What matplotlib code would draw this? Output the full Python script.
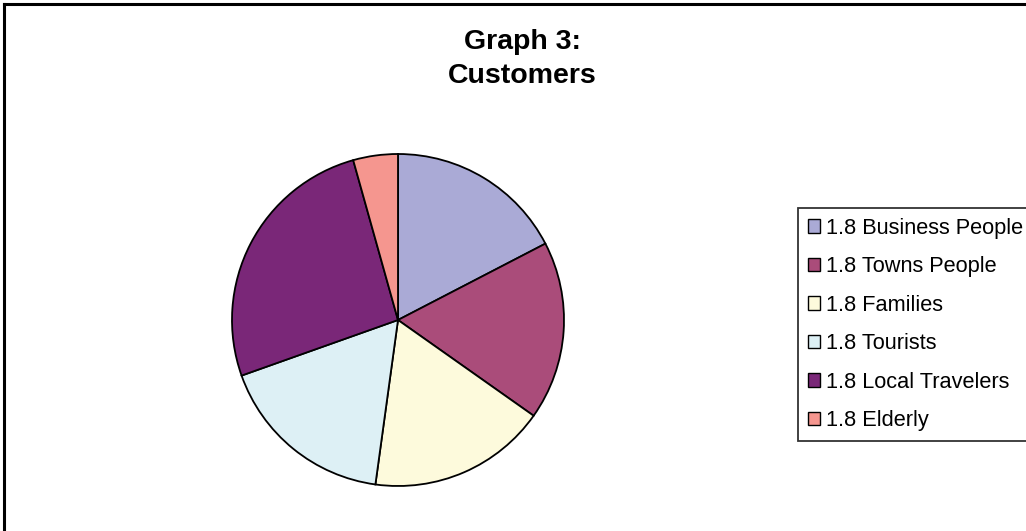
import matplotlib
matplotlib.use("Agg")
import matplotlib.pyplot as plt
from matplotlib.patches import Patch

labels = ["1.8 Business People", "1.8 Towns People", "1.8 Families",
          "1.8 Tourists", "1.8 Local Travelers", "1.8 Elderly"]
values = [4, 4, 4, 4, 6, 1]
colors = ["#AAAAD6", "#AA4C7A", "#FDFADC", "#DDF0F5", "#7A2778", "#F5968F"]
title = "Graph 3:\nCustomers"

W, H = 1026, 531
fig = plt.figure(figsize=(W / 100, H / 100), dpi=100)
fig.patch.set_facecolor("white")

# outer border (top and left visible)
fig.add_artist(plt.Line2D([4 / W, 4 / W], [0, 1 - 4 / H], color="black", lw=2.2, transform=fig.transFigure))
fig.add_artist(plt.Line2D([4 / W, 1], [1 - 4 / H, 1 - 4 / H], color="black", lw=2.2, transform=fig.transFigure))

ax = fig.add_axes([232 / W, 45 / H, 332 / W, 332 / H])
ax.pie(values, colors=colors, startangle=90, counterclock=False,
       wedgeprops=dict(edgecolor="black", linewidth=1.3), radius=1)
ax.set_xlim(-1, 1)
ax.set_ylim(-1, 1)
ax.set_aspect("equal")
ax.axis("off")

fig.text(522 / W, 1 - 59 / H, title, ha="center", va="center",
         fontsize=20.5, fontweight="bold", family="Liberation Sans", linespacing=1.38)

handles = [Patch(facecolor=c, edgecolor="black", linewidth=1.0) for c in colors]
leg = fig.legend(handles, labels, loc="upper left",
                 bbox_to_anchor=(798 / W, 1 - 208 / H),
                 prop=dict(family="Liberation Sans", size=15.7),
                 frameon=True, fancybox=False, edgecolor="black",
                 handlelength=0.58, handleheight=0.58, handletextpad=0.25,
                 labelspacing=0.8, borderpad=0.45, borderaxespad=0)
leg.get_frame().set_linewidth(1.3)

fig.savefig("out.png", dpi=100)
